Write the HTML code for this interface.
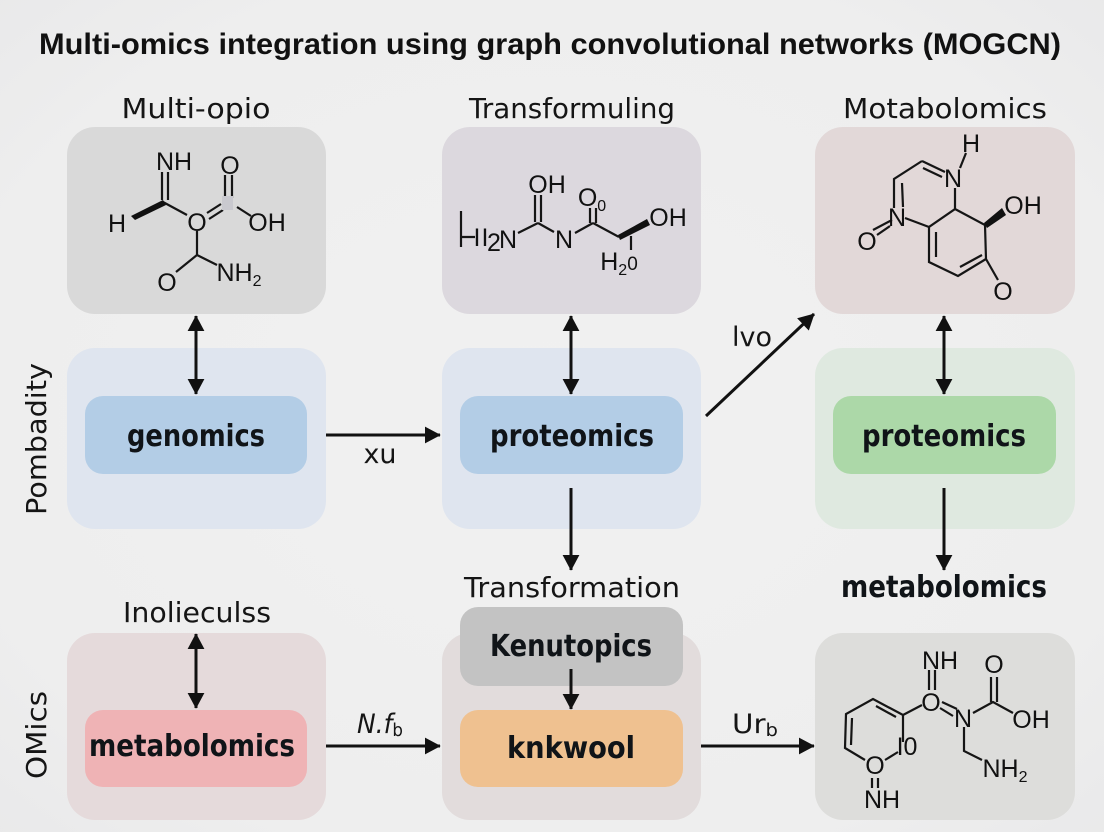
<!DOCTYPE html>
<html><head><meta charset="utf-8"><style>
html,body{margin:0;padding:0;background:#eeeff0;width:1104px;height:832px;overflow:hidden}
svg{display:block}
.t{font-family:"DejaVu Sans","Liberation Sans",sans-serif;fill:#151515}
.h{font-size:28px;text-anchor:middle}
.b{font-family:"DejaVu Sans","Liberation Sans",sans-serif;font-weight:bold;font-size:30px;text-anchor:middle;fill:#101418}
.m{font-family:"Liberation Sans",sans-serif;font-size:25px;text-anchor:middle;fill:#111}
.s{font-size:16px}
.a{stroke:#111;stroke-width:3;fill:none}
.l{stroke:#151515;stroke-width:2.2;fill:none}
</style></head><body>
<svg width="1104" height="832" viewBox="0 0 1104 832" xmlns="http://www.w3.org/2000/svg">
<defs>
<radialGradient id="bg" cx="50%" cy="50%" r="72%"><stop offset="0" stop-color="#f1f1f1"/><stop offset="0.75" stop-color="#eeeeee"/><stop offset="1" stop-color="#e9e9ea"/></radialGradient>
<marker id="e" viewBox="0 0 10 10" refX="9.5" refY="5" markerWidth="16" markerHeight="17" markerUnits="userSpaceOnUse" orient="auto-start-reverse" preserveAspectRatio="none"><path d="M0 0L10 5L0 10Z" fill="#111"/></marker>
</defs>
<rect width="1104" height="832" fill="url(#bg)"/>

<text x="550" y="54" font-family="Liberation Sans, sans-serif" font-weight="bold" font-size="30" text-anchor="middle" fill="#111" textLength="1022" lengthAdjust="spacingAndGlyphs">Multi-omics integration using graph convolutional networks (MOGCN)</text>

<!-- outer boxes -->
<rect x="67" y="127" width="259" height="187" rx="28" fill="#d9d9d9"/>
<rect x="442" y="127" width="259" height="187" rx="28" fill="#dcd8de"/>
<rect x="815" y="127" width="260" height="187" rx="28" fill="#e2d8d8"/>
<rect x="67" y="348" width="259" height="181" rx="28" fill="#dfe5ef"/>
<rect x="442" y="348" width="259" height="181" rx="28" fill="#dfe5ef"/>
<rect x="815" y="348" width="260" height="181" rx="28" fill="#dfe9e0"/>
<rect x="67" y="633" width="259" height="187" rx="28" fill="#e5dadb"/>
<rect x="442" y="633" width="259" height="187" rx="28" fill="#e2dcdc"/>
<rect x="815" y="633" width="260" height="187" rx="28" fill="#dddddb"/>

<!-- inner boxes -->
<rect x="85" y="396" width="222" height="78" rx="18" fill="#b3cde6"/>
<rect x="460" y="396" width="223" height="78" rx="18" fill="#b3cde6"/>
<rect x="833" y="396" width="223" height="78" rx="18" fill="#acd8a8"/>
<rect x="85" y="710" width="222" height="77" rx="18" fill="#efb3b5"/>
<rect x="460" y="607" width="223" height="79" rx="18" fill="#c3c3c3"/>
<rect x="460" y="710" width="223" height="77" rx="18" fill="#efc190"/>

<!-- headers -->
<text class="t h" x="196" y="118" textLength="149" lengthAdjust="spacingAndGlyphs">Multi-opio</text>
<text class="t h" x="572" y="118" textLength="206" lengthAdjust="spacingAndGlyphs">Transformuling</text>
<text class="t h" x="945" y="118" textLength="204" lengthAdjust="spacingAndGlyphs">Motabolomics</text>
<text class="t h" x="572" y="597" textLength="216" lengthAdjust="spacingAndGlyphs">Transformation</text>
<text class="t h" x="197" y="622" textLength="148" lengthAdjust="spacingAndGlyphs">Inolieculss</text>
<text class="b" x="944" y="597" textLength="206" lengthAdjust="spacingAndGlyphs">metabolomics</text>

<!-- inner labels -->
<text class="b" x="196" y="446" textLength="138" lengthAdjust="spacingAndGlyphs">genomics</text>
<text class="b" x="572" y="446" textLength="164" lengthAdjust="spacingAndGlyphs">proteomics</text>
<text class="b" x="944" y="446" textLength="164" lengthAdjust="spacingAndGlyphs">proteomics</text>
<text class="b" x="192" y="756" textLength="206" lengthAdjust="spacingAndGlyphs">metabolomics</text>
<text class="b" x="571" y="656" textLength="162" lengthAdjust="spacingAndGlyphs">Kenutopics</text>
<text class="b" x="571" y="758" textLength="128" lengthAdjust="spacingAndGlyphs">knkwool</text>

<!-- side labels -->
<text class="t h" transform="translate(46,439) rotate(-90)" textLength="152" lengthAdjust="spacingAndGlyphs">Pombadity</text>
<text class="t h" transform="translate(46,735) rotate(-90)" textLength="88" lengthAdjust="spacingAndGlyphs">OMics</text>

<!-- connector labels -->
<text class="t" x="380" y="463" font-size="27" text-anchor="middle" textLength="33" lengthAdjust="spacingAndGlyphs">xu</text>
<text class="t" x="752" y="346" font-size="27" text-anchor="middle" textLength="40" lengthAdjust="spacingAndGlyphs">lvo</text>
<text class="t" x="380" y="733" font-size="27" font-style="italic" text-anchor="middle" textLength="46" lengthAdjust="spacingAndGlyphs">N.f<tspan font-size="18" font-style="normal" dy="3">b</tspan></text>
<text class="t" x="755" y="733" font-size="27" text-anchor="middle" textLength="46" lengthAdjust="spacingAndGlyphs">Ur<tspan font-size="18" dy="3">b</tspan></text>

<!-- arrows -->
<g class="a">
<line x1="196" y1="316" x2="196" y2="394" marker-start="url(#e)" marker-end="url(#e)"/>
<line x1="571" y1="316" x2="571" y2="394" marker-start="url(#e)" marker-end="url(#e)"/>
<line x1="944" y1="316" x2="944" y2="394" marker-start="url(#e)" marker-end="url(#e)"/>
<line x1="196" y1="634" x2="196" y2="708" marker-start="url(#e)" marker-end="url(#e)"/>
<line x1="326" y1="435" x2="440" y2="435" marker-end="url(#e)"/>
<line x1="706" y1="416" x2="814" y2="314" marker-end="url(#e)"/>
<line x1="571" y1="488" x2="571" y2="570" marker-end="url(#e)"/>
<line x1="944" y1="488" x2="944" y2="570" marker-end="url(#e)"/>
<line x1="326" y1="746" x2="440" y2="746" marker-end="url(#e)"/>
<line x1="571" y1="669" x2="571" y2="709" marker-end="url(#e)"/>
<line x1="701" y1="746" x2="814" y2="746" marker-end="url(#e)"/>
</g>

<!-- molecule 1 -->
<g class="l">
<path d="M162 172V200M168 172V200M163 202L187 215M207 213L221 204M209 219L223 210M225 175V198M232 175V198M197 231V255L176 272M197 255L217 265M237 207L251 216"/>
</g>
<path d="M163 200L166 205L135 220L131 216Z" fill="#111"/>
<rect x="222" y="196" width="11" height="14" fill="#c9c9cf"/>
<text class="m" x="174" y="170">NH</text>
<text class="m" x="230" y="174">O</text>
<text class="m" x="117" y="232">H</text>
<text class="m" x="197" y="231">O</text>
<text class="m" x="267" y="231">OH</text>
<text class="m" x="167" y="291">O</text>
<text class="m" x="239" y="281">NH<tspan class="s" dy="5">2</tspan></text>

<!-- molecule 2 -->
<g class="l">
<path d="M461 211V247M461 237H475M518 233L538 223M535 195V222M541 195V222M538 223L554 232M575 233L593 223M590 208V223M596 208V223M593 223L619 237M631 236V250"/>
</g>
<path d="M618 235L620 240L650 225L647 219Z" fill="#111"/>
<text class="m" x="547" y="193">OH</text>
<text class="m" x="592" y="206">O<tspan class="s" dy="5">0</tspan></text>
<text class="m" x="668" y="226">OH</text>
<text class="m" x="477" y="246" font-size="17" fill="#444">I</text>
<text class="m" x="485" y="246" font-size="20">I</text>
<text class="m" x="494" y="251" font-size="17">2</text>
<text class="m" x="508" y="248">N</text>
<text class="m" x="564" y="248">N</text>
<text class="m" x="619" y="270">H<tspan class="s" dy="5">2</tspan><tspan dy="-5" font-size="19">0</tspan></text>

<!-- molecule 3 -->
<g class="l">
<path d="M966 153L960 168M922 161L945 172M923 168L942 177M922 161L894 179V208M902 183L903 207M905 218L929 227M955 188V209L929 227V262L958 276L986 259L985 225L955 209M936 232V257M960 267L982 255M986 259L998 280M892 220L873 230M890 226L877 235"/>
</g>
<path d="M984 223L987 228L1006 215L1002 208Z" fill="#111"/>
<text class="m" x="971" y="152">H</text>
<text class="m" x="953" y="187">N</text>
<text class="m" x="1023" y="214">OH</text>
<text class="m" x="897" y="226">N</text>
<text class="m" x="867" y="250">O</text>
<text class="m" x="1003" y="300">O</text>

<!-- molecule 4 -->
<g class="l">
<path d="M929 670V690M935 670V690M922 705L903 715L873 699L846 714L845 748L865 760M876 706L896 717M903 715V742M852 718L851 745M885 760L898 752M942 702L957 709M940 708L953 716M973 713L993 702L1013 713M991 677V702M997 677V702M964 727V751L982 760M872 778V788M878 778V788"/>
</g>
<text class="m" x="940" y="669">NH</text>
<text class="m" x="994" y="673">O</text>
<text class="m" x="931" y="711">O</text>
<text class="m" x="963" y="727">N</text>
<text class="m" x="1031" y="728">OH</text>
<text class="m" x="1005" y="777">NH<tspan class="s" dy="5">2</tspan></text>
<text class="m" x="907" y="755" font-size="17">I0</text>
<text class="m" x="875" y="774">O</text>
<text class="m" x="882" y="808">NH</text>
</svg>
</body></html>
